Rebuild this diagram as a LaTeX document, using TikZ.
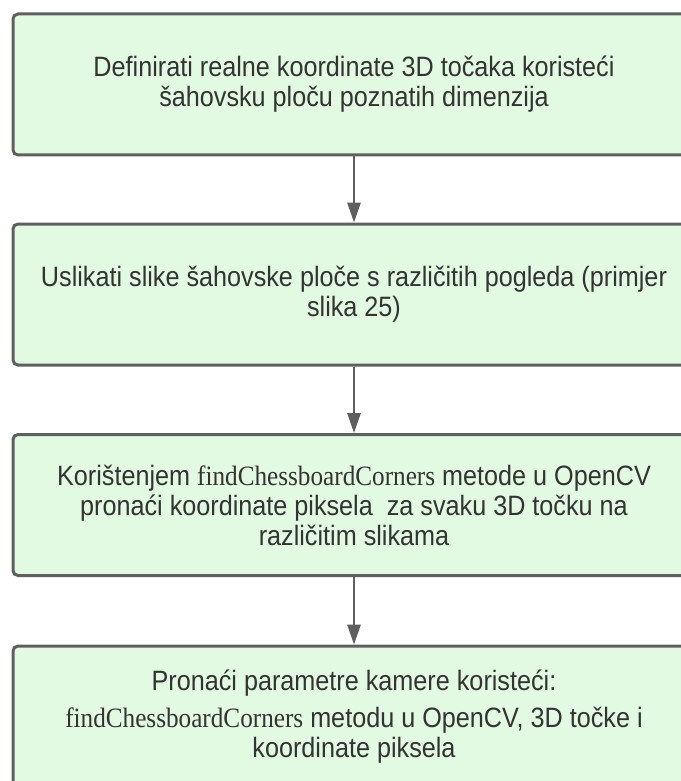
\documentclass[tikz,border=0pt]{standalone}
\usepackage{fontspec}
\setmainfont{Liberation Sans}[FakeStretch=0.9]
\newfontfamily\codefont{Liberation Serif}[FakeStretch=0.9]
\usetikzlibrary{arrows.meta}
\definecolor{boxfill}{HTML}{E2F9E2}
\definecolor{boxline}{HTML}{5F5F5F}
\definecolor{boxtext}{HTML}{333333}
\newcommand{\fcc}{{\codefont findChessboardCorners}}
\begin{document}
\begin{tikzpicture}[x=0.75pt, y=-0.75pt,
		stepbox/.style={draw=boxline, fill=boxfill, line width=2.25pt, rounded corners=3.75pt,
			minimum width=511.5pt, minimum height=105.75pt, align=center, text=boxtext,
			font=\fontsize{21pt}{22.5pt}\selectfont},
		flow/.style={draw=boxline, line width=1.5pt, -{Triangle[length=15pt, width=10pt]}}]
				\useasboundingbox (0,0) rectangle (681,781);
				\clip (0,0) rectangle (681,781);

				\node (Define) [stepbox] at (354, 84.5) {Definirati realne koordinate 3D točaka koristeći\\ šahovsku ploču poznatih dimenzija};

				\node (Capture) [stepbox] at (354, 294.5) {Uslikati slike šahovske ploče s različitih pogleda (primjer\\ slika 25)};
				\draw[flow] (Define) -- (Capture);

				\node (Corners) [stepbox] at (354, 505) {Korištenjem \fcc{} metode u OpenCV\\ pronaći koordinate piksela\ \ za svaku 3D točku na\\ različitim slikama};
				\draw[flow] (Capture) -- (Corners);

				\node (Params) [stepbox] at (354, 716.5) {Pronaći parametre kamere koristeći:\\[5pt] \fcc{} metodu u OpenCV, 3D točke i\\ koordinate piksela};
				\draw[flow] (Corners) -- (Params);
			\end{tikzpicture}
\end{document}
